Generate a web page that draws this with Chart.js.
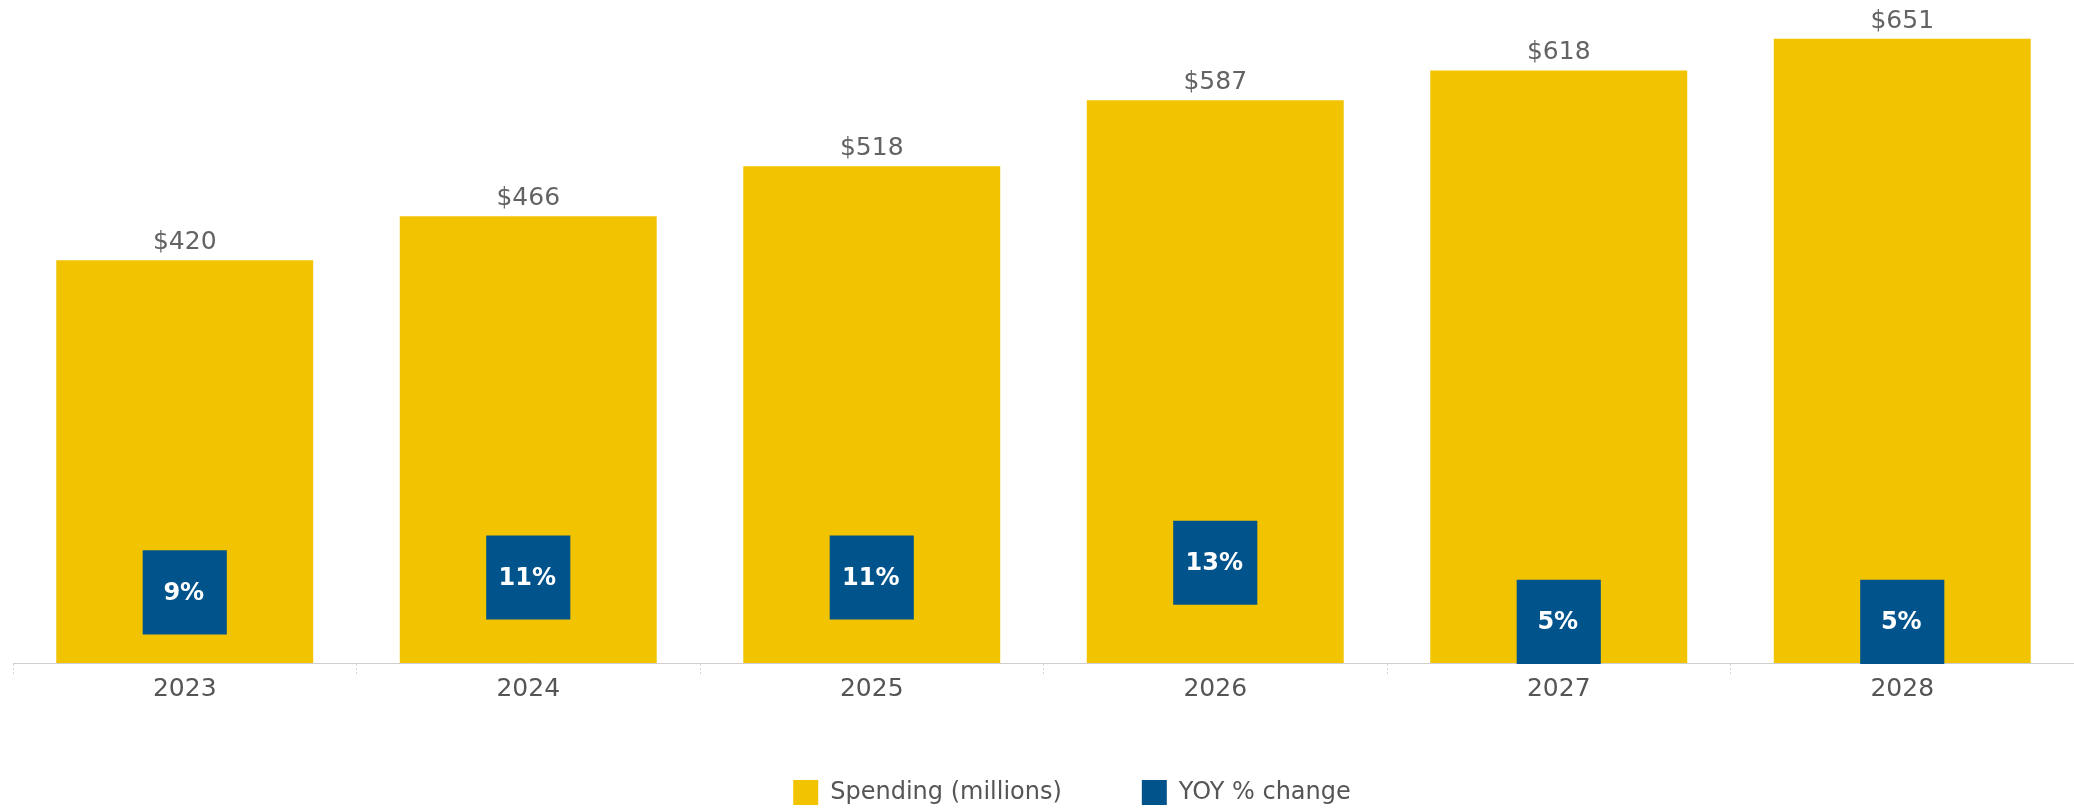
<!DOCTYPE html>
<html>
<head>
<meta charset="utf-8">
<script src="https://cdn.jsdelivr.net/npm/chart.js@4.4.1/dist/chart.umd.min.js"></script>
<style>
  html, body { margin: 0; padding: 0; background: #ffffff; }
  #wrap { position: relative; width: 2074px; height: 809px; }
</style>
</head>
<body>
<div id="wrap"><canvas id="c" width="2074" height="809"></canvas></div>
<script>
const categories = ['2023', '2024', '2025', '2026', '2027', '2028'];
const spending = [420, 466, 518, 587, 618, 651];
const yoyChange = [9, 11, 11, 13, 5, 5];
const seriesNames = ['Spending (millions)', 'YOY % change'];

const YELLOW = '#F2C300';
const BLUE = '#01548B';
const FONT = "'DejaVu Sans', 'Noto Sans', sans-serif";

const labelPlugin = {
  id: 'valueLabels',
  afterLayout(chart) {
    // nudge legend block to the right to match the reference placement
    chart.legend.left += 57;
  },
  afterDatasetsDraw(chart) {
    const ctx = chart.ctx;
    ctx.save();
    const barMeta = chart.getDatasetMeta(0);
    ctx.font = "25px " + FONT;
    ctx.fillStyle = '#636363';
    ctx.textAlign = 'center';
    ctx.textBaseline = 'alphabetic';
    barMeta.data.forEach((el, i) => {
      ctx.fillText('$' + spending[i], el.x, el.y - 11);
    });
    const ptMeta = chart.getDatasetMeta(1);
    ctx.font = "bold 24px " + FONT;
    ctx.fillStyle = '#ffffff';
    ctx.textBaseline = 'middle';
    ptMeta.data.forEach((el, i) => {
      ctx.fillText(yoyChange[i] + '%', el.x - 1, el.y + 1);
    });
    ctx.restore();
  }
};

new Chart(document.getElementById('c'), {
  data: {
    labels: categories,
    datasets: [
      {
        type: 'bar',
        label: seriesNames[0],
        data: spending,
        backgroundColor: YELLOW,
        borderWidth: 0,
        yAxisID: 'y',
        order: 1,
        barPercentage: 0.748,
        categoryPercentage: 1.0
      },
      {
        type: 'line',
        label: seriesNames[1],
        data: yoyChange,
        showLine: false,
        yAxisID: 'y2',
        order: 0,
        pointStyle: 'rect',
        pointRadius: 59.5,
        pointHoverRadius: 59.5,
        pointBackgroundColor: BLUE,
        pointBorderWidth: 0,
        backgroundColor: BLUE,
        borderColor: BLUE,
        borderWidth: 0,
        clip: false
      }
    ]
  },
  options: {
    responsive: false,
    animation: false,
    devicePixelRatio: 1,
    layout: { autoPadding: false, padding: { left: 13, right: 0, top: 11, bottom: -6 } },
    plugins: {
      tooltip: { enabled: false },
      legend: {
        position: 'bottom',
        labels: {
          boxWidth: 25,
          boxHeight: 25,
          padding: 80,
          color: '#555555',
          font: { family: FONT, size: 24 },
          sort: (a, b) => a.datasetIndex - b.datasetIndex
        }
      }
    },
    scales: {
      x: {
        type: 'category',
        offset: true,
        grid: {
          display: true,
          offset: true,
          drawOnChartArea: false,
          drawTicks: true,
          tickLength: 11,
          tickColor: '#d6d6d6',
          tickWidth: 1,
          tickBorderDash: [2, 2]
        },
        border: { display: true, color: '#cfcfcf', width: 1, dash: [3, 3] },
        ticks: {
          color: '#555555',
          padding: 0,
          font: { family: FONT, size: 25 }
        },
        afterFit(scale) { scale.height = 37; }
      },
      y: {
        display: false,
        min: 0,
        max: 680
      },
      y2: {
        display: false,
        position: 'right',
        min: -0.55,
        max: 87.55
      }
    }
  },
  plugins: [labelPlugin]
});
</script>
</body>
</html>
